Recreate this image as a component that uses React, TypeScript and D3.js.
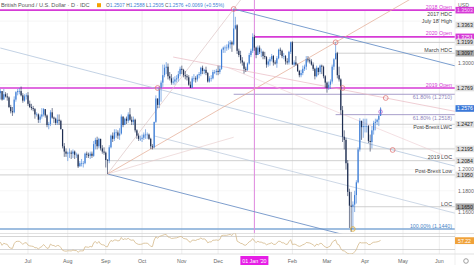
import React from "react";
import * as d3 from "d3";

type HLC = [number, number, number]; // high, low, close (open = previous close)

const PREV_CLOSE = 1.272;

const may2019: HLC[] = [
  [1.2745, 1.27, 1.272], [1.277, 1.269, 1.271], [1.272, 1.263, 1.265], [1.268, 1.2605, 1.2655], [1.273, 1.264, 1.271],
  [1.273, 1.267, 1.269], [1.271, 1.264, 1.266], [1.268, 1.26, 1.262], [1.265, 1.258, 1.26], [1.265, 1.256, 1.263],
];
const jun2019: HLC[] = [
  [1.267, 1.26, 1.266], [1.27, 1.264, 1.267], [1.273, 1.265, 1.271], [1.274, 1.268, 1.272], [1.276, 1.266, 1.274],
  [1.274, 1.265, 1.266], [1.276, 1.266, 1.271], [1.273, 1.268, 1.269], [1.272, 1.265, 1.268], [1.269, 1.258, 1.259],
  [1.261, 1.253, 1.255], [1.259, 1.2506, 1.254], [1.269, 1.253, 1.266], [1.274, 1.264, 1.273], [1.276, 1.27, 1.274],
  [1.277, 1.271, 1.274], [1.2783, 1.269, 1.27], [1.272, 1.263, 1.265], [1.271, 1.264, 1.269], [1.272, 1.266, 1.27],
];
const jul2019: HLC[] = [
  [1.273, 1.26, 1.262], [1.265, 1.258, 1.259], [1.262, 1.256, 1.258], [1.26, 1.255, 1.257], [1.258, 1.248, 1.252],
  [1.254, 1.25, 1.252], [1.253, 1.244, 1.247], [1.252, 1.244, 1.25], [1.258, 1.248, 1.252], [1.258, 1.25, 1.257],
  [1.257, 1.249, 1.251], [1.252, 1.24, 1.242], [1.245, 1.238, 1.243], [1.256, 1.241, 1.254], [1.258, 1.248, 1.249],
  [1.25, 1.244, 1.248], [1.249, 1.242, 1.244], [1.252, 1.242, 1.247], [1.252, 1.242, 1.246], [1.247, 1.238, 1.238],
  [1.238, 1.22, 1.222], [1.225, 1.212, 1.217], [1.22, 1.212, 1.215],
];
const aug2019: HLC[] = [
  [1.217, 1.208, 1.216], [1.22, 1.211, 1.216], [1.218, 1.21, 1.215], [1.219, 1.211, 1.217], [1.218, 1.21, 1.214],
  [1.216, 1.211, 1.214], [1.215, 1.2015, 1.203], [1.208, 1.203, 1.206], [1.21, 1.203, 1.206], [1.208, 1.202, 1.206],
  [1.216, 1.205, 1.215], [1.217, 1.211, 1.214], [1.216, 1.211, 1.213], [1.217, 1.21, 1.215], [1.217, 1.211, 1.213],
  [1.227, 1.212, 1.224], [1.23, 1.219, 1.228], [1.231, 1.219, 1.222], [1.23, 1.22, 1.229], [1.229, 1.218, 1.22],
  [1.223, 1.215, 1.217], [1.221, 1.214, 1.216],
];
const sep2019: HLC[] = [
  [1.217, 1.202, 1.209], [1.21, 1.1959, 1.2084], [1.223, 1.206, 1.221], [1.233, 1.22, 1.232], [1.235, 1.226, 1.229],
  [1.238, 1.227, 1.235], [1.238, 1.23, 1.235], [1.237, 1.229, 1.232], [1.239, 1.228, 1.234], [1.252, 1.233, 1.25],
  [1.25, 1.24, 1.242], [1.249, 1.242, 1.248], [1.25, 1.243, 1.246], [1.254, 1.244, 1.252], [1.258, 1.246, 1.247],
  [1.25, 1.242, 1.245], [1.25, 1.242, 1.247], [1.248, 1.235, 1.237], [1.238, 1.229, 1.232], [1.234, 1.227, 1.229],
  [1.232, 1.227, 1.229],
];
const oct2019: HLC[] = [
  [1.233, 1.226, 1.23], [1.235, 1.228, 1.233], [1.238, 1.229, 1.233], [1.235, 1.229, 1.233], [1.234, 1.228, 1.229],
  [1.23, 1.2195, 1.222], [1.224, 1.219, 1.221], [1.245, 1.22, 1.245], [1.27, 1.244, 1.267], [1.267, 1.258, 1.261],
  [1.279, 1.258, 1.277], [1.284, 1.264, 1.282], [1.299, 1.278, 1.289], [1.299, 1.287, 1.296], [1.3013, 1.29, 1.297],
  [1.3, 1.285, 1.288], [1.292, 1.284, 1.286], [1.29, 1.28, 1.282], [1.287, 1.28, 1.283], [1.288, 1.28, 1.285],
  [1.289, 1.282, 1.286], [1.293, 1.283, 1.29], [1.297, 1.288, 1.295],
];
const nov2019: HLC[] = [
  [1.298, 1.29, 1.294], [1.295, 1.287, 1.289], [1.293, 1.285, 1.288], [1.29, 1.284, 1.287], [1.289, 1.279, 1.28],
  [1.283, 1.277, 1.277], [1.288, 1.277, 1.286], [1.29, 1.283, 1.286], [1.288, 1.282, 1.285], [1.29, 1.283, 1.289],
  [1.292, 1.286, 1.29], [1.297, 1.288, 1.296], [1.298, 1.29, 1.293], [1.295, 1.29, 1.294], [1.297, 1.289, 1.291],
  [1.292, 1.282, 1.283], [1.288, 1.282, 1.286], [1.289, 1.283, 1.286], [1.294, 1.285, 1.292], [1.294, 1.29, 1.292],
  [1.295, 1.289, 1.293],
];
const dec2019: HLC[] = [
  [1.298, 1.289, 1.292], [1.298, 1.29, 1.295], [1.314, 1.294, 1.313], [1.316, 1.31, 1.315], [1.317, 1.31, 1.315],
  [1.318, 1.312, 1.315], [1.321, 1.313, 1.318], [1.322, 1.314, 1.32], [1.3215, 1.311, 1.318], [1.3514, 1.317, 1.333],
  [1.344, 1.332, 1.336], [1.337, 1.309, 1.312], [1.314, 1.306, 1.308], [1.312, 1.3, 1.303], [1.306, 1.298, 1.301],
  [1.302, 1.2905, 1.295], [1.297, 1.292, 1.294], [1.301, 1.293, 1.3], [1.31, 1.299, 1.308], [1.314, 1.306, 1.312],
  [1.3285, 1.31, 1.3251],
];
const jan2020: HLC[] = [
  [1.327, 1.312, 1.315], [1.316, 1.305, 1.308], [1.317, 1.308, 1.315], [1.317, 1.309, 1.311], [1.314, 1.306, 1.311],
  [1.312, 1.304, 1.307], [1.311, 1.304, 1.306], [1.307, 1.296, 1.299], [1.304, 1.297, 1.302], [1.306, 1.298, 1.304],
  [1.309, 1.302, 1.307], [1.308, 1.298, 1.301], [1.303, 1.299, 1.3], [1.307, 1.296, 1.305], [1.314, 1.304, 1.313],
  [1.315, 1.308, 1.312], [1.313, 1.305, 1.307], [1.31, 1.304, 1.307], [1.308, 1.299, 1.302], [1.305, 1.299, 1.301],
  [1.312, 1.299, 1.311], [1.3207, 1.309, 1.32],
];
const feb2020: HLC[] = [
  [1.321, 1.299, 1.299], [1.303, 1.297, 1.301], [1.307, 1.298, 1.299], [1.3, 1.292, 1.293], [1.294, 1.287, 1.289],
  [1.294, 1.287, 1.291], [1.298, 1.289, 1.295], [1.299, 1.293, 1.297], [1.307, 1.294, 1.304], [1.307, 1.301, 1.303],
  [1.305, 1.3, 1.302], [1.304, 1.298, 1.299], [1.301, 1.293, 1.295], [1.296, 1.285, 1.288], [1.298, 1.287, 1.296],
  [1.296, 1.289, 1.292], [1.299, 1.29, 1.298], [1.299, 1.29, 1.297], [1.298, 1.286, 1.288], [1.289, 1.277, 1.282],
];
const mar2020: HLC[] = [
  [1.283, 1.2725, 1.277], [1.283, 1.275, 1.28], [1.285, 1.276, 1.283], [1.299, 1.281, 1.297], [1.305, 1.294, 1.304],
  [1.32, 1.304, 1.3097], [1.311, 1.286, 1.289], [1.297, 1.283, 1.285], [1.286, 1.252, 1.256], [1.26, 1.226, 1.231],
  [1.237, 1.219, 1.228], [1.23, 1.2, 1.206], [1.209, 1.175, 1.179], [1.182, 1.145, 1.166], [1.179, 1.1412, 1.165],
  [1.17, 1.144, 1.167], [1.18, 1.16, 1.176], [1.19, 1.168, 1.188], [1.221, 1.187, 1.219], [1.2485, 1.217, 1.246],
  [1.246, 1.228, 1.24], [1.248, 1.23, 1.241],
];
const apr2020: HLC[] = [
  [1.248, 1.235, 1.241], [1.248, 1.235, 1.241], [1.242, 1.225, 1.227], [1.233, 1.217, 1.226], [1.241, 1.22, 1.237],
  [1.246, 1.233, 1.244], [1.248, 1.237, 1.245], [1.248, 1.242, 1.247], [1.252, 1.241, 1.2507], [1.2588, 1.2505, 1.2576],
];

const FIRST_DAY = "2019-05-20";
const HOLIDAYS = ["2019-12-25", "2020-01-01"];

// key levels
const levelNames = [
  "2018 Open", "2017 HDC", "July 18' High", "2020 Open", "March HDC", "2019 Open", "61.80% (1.2710)",
  "61.80% (1.2518)", "Post-Brexit LWC", "2019 LOC", "Post-Brexit Low", "LOC", "100.00% (1.1440)",
];
const levelPrices = [1.3503, 1.347, 1.3363, 1.3251, 1.3097, 1.2769, 1.271, 1.2518, 1.2427, 1.2084, 1.195, 1.165, 1.144];
const levelStarts = [
  FIRST_DAY, "", "", "2020-01-02", "2020-03-09", FIRST_DAY, "2019-12-13",
  "2020-03-09", FIRST_DAY, "2019-09-03", FIRST_DAY, "2020-03-20", FIRST_DAY,
];
const axisOnlyPrices = [1.3199, 1.2195];
const axisOnlyStarts = ["2020-01-31", "2019-10-08"];
const priceTicks = [1.16, 1.18, 1.2, 1.22, 1.24, 1.26, 1.28, 1.3, 1.32, 1.34];

// trend lines: [fromDate, fromPrice, toDate, toPrice]
const decHighFall = ["2019-12-13", 1.3514, "2020-03-09", 1.3267] as const;
const upperChannel = ["2019-06-07", 1.3146, "2020-04-23", 1.2185] as const;
const midChannel = ["2019-10-10", 1.2317, "2020-04-29", 1.1723] as const;
const lowerChannel = ["2019-09-03", 1.1959, "2020-03-10", 1.1402] as const;
const fanToDec = ["2019-09-03", 1.1959, "2019-12-13", 1.3514] as const;
const fanToMar = ["2019-09-03", 1.1959, "2020-03-09", 1.32] as const;
const fanShallow = ["2019-09-03", 1.1959, "2019-12-13", 1.2305] as const;
const pinkUpper = ["2019-10-25", 1.3061, "2020-04-17", 1.2675] as const;
const pinkLower = ["2019-12-09", 1.2967, "2020-03-19", 1.2496] as const;

const circleDates = ["2019-12-13", "2020-03-09", "2020-03-13", "2019-10-14", "2020-04-17", "2020-04-23"];
const circlePrices = [1.3514, 1.32, 1.2769, 1.2769, 1.2675, 1.2185];
const lowMarkDate = "2020-03-23";
const lowMarkPrice = 1.144;

const OSC_LAST = 57.22;
const OSC_LEVELS = [30, 70];

const FONT = "'Liberation Sans', Arial, sans-serif";
const W = 474, H = 265, PLOT_R = 455, PRICE_B = 233.5, OSC_B = 254;

const fmt = d3.utcFormat("%Y-%m-%d");
const days = d3.utcDay
  .range(new Date(Date.UTC(2019, 4, 20)), new Date(Date.UTC(2020, 6, 1)))
  .filter((d) => d.getUTCDay() !== 0 && d.getUTCDay() !== 6 && !HOLIDAYS.includes(fmt(d)));
const dayIndex = new Map(days.map((d, i) => [fmt(d), i] as [string, number]));
const idx = (s: string) => dayIndex.get(s) as number;

const bars = [may2019, jun2019, jul2019, aug2019, sep2019, oct2019, nov2019, dec2019, jan2020, feb2020, mar2020, apr2020].flat();
const closes = bars.map((b) => b[2]);
const opens = closes.map((c, i) => (i === 0 ? PREV_CLOSE : closes[i - 1]));

function rsi(values: number[], n = 14): (number | null)[] {
  const out: (number | null)[] = values.map(() => null);
  let ag = 0, al = 0;
  for (let i = 1; i < values.length; i++) {
    const d = values[i] - values[i - 1];
    const g = Math.max(d, 0), l = Math.max(-d, 0);
    if (i <= n) {
      ag += g / n; al += l / n;
      if (i === n) out[i] = 100 - 100 / (1 + ag / (al || 1e-9));
    } else {
      ag = (ag * (n - 1) + g) / n; al = (al * (n - 1) + l) / n;
      out[i] = 100 - 100 / (1 + ag / (al || 1e-9));
    }
  }
  return out;
}
const oscValues = rsi(closes);

const x = d3.scaleLinear().domain([idx("2019-07-01"), idx("2020-04-01")]).range([28, 365]);
const y = d3.scaleLinear().domain([1.144, 1.3363]).range([229, 25]);
const yo = d3.scaleLinear().domain([30, 70]).range([249.5, 236.5]);

const MAGENTA = "#d63bd6";
const UP = "#3f7fd6";
const DOWN = "#1e2e52";

function trendPath(t: readonly [string, number, string, number], ray: boolean) {
  const x1 = x(idx(t[0])), y1 = y(t[1]), x2 = x(idx(t[2])), y2 = y(t[3]);
  if (!ray) return { x1, y1, x2, y2 };
  const s = (y2 - y1) / (x2 - x1);
  return { x1, y1, x2: PLOT_R, y2: y1 + s * (PLOT_R - x1) };
}

const labelSide: Record<string, number> = {
  "2018 Open": -3.5, "2017 HDC": 0, "July 18' High": -3.5, "2020 Open": -3.5, "March HDC": -3.5, "2019 Open": -2.5,
  "61.80% (1.2710)": 2.5, "61.80% (1.2518)": 3, "Post-Brexit LWC": 3, "2019 LOC": -3.5, "Post-Brexit Low": -3.5,
  LOC: -2.5, "100.00% (1.1440)": -3,
};

export default function App() {
  const monthTicks = days
    .map((d, i) => ({ d, i }))
    .filter(({ d, i }) => i > 0 && d.getUTCMonth() !== days[i - 1].getUTCMonth())
    .filter(({ i }) => x(i) > 5 && x(i) < PLOT_R);

  const oscLine = d3
    .line<number | null>()
    .defined((v) => v !== null)
    .x((_, i) => x(i))
    .y((v) => yo(v as number));

  const trendStyles: [readonly [string, number, string, number], boolean, string, number][] = [
    [upperChannel, true, "#a9bfd8", 0.7],
    [midChannel, true, "#b7c7db", 0.7],
    [lowerChannel, true, "#6f93c7", 0.9],
    [fanToDec, true, "#dcc4c4", 0.7],
    [fanToMar, true, "#e3a88f", 0.7],
    [fanShallow, false, "#e6c7c7", 0.6],
    [pinkUpper, true, "#e8b9c2", 0.7],
    [pinkLower, true, "#eccbd0", 0.6],
    [decHighFall, true, "#6b93c9", 0.9],
  ];

  const levelStyle = (name: string) => {
    if (name.includes("Open")) return { stroke: MAGENTA, w: 1.6, text: MAGENTA };
    if (name.startsWith("61.80%")) return { stroke: "#9d93c4", w: 0.9, text: "#8e84bb" };
    if (name.startsWith("100.00%")) return { stroke: "#7fa9d6", w: 1.6, text: "#4a86c8" };
    return { stroke: "#c4c4c4", w: 0.8, text: "#444" };
  };

  const boxes: { p: number; bg: string; fg: string }[] = [
    { p: levelPrices[0], bg: MAGENTA, fg: "#fbd3fb" },
    { p: levelPrices[2], bg: "#dedede", fg: "#222" },
    { p: levelPrices[3], bg: MAGENTA, fg: "#fff" },
    { p: axisOnlyPrices[0], bg: "#dedede", fg: "#222" },
    { p: levelPrices[4], bg: "#a9a9a9", fg: "#222" },
    { p: levelPrices[5], bg: "#dedede", fg: "#222" },
    { p: levelPrices[8], bg: "#dedede", fg: "#222" },
    { p: axisOnlyPrices[1], bg: "#dedede", fg: "#222" },
    { p: levelPrices[9], bg: "#dedede", fg: "#222" },
    { p: levelPrices[10], bg: "#dedede", fg: "#222" },
    { p: levelPrices[11], bg: "#a9a9a9", fg: "#222" },
    { p: closes[closes.length - 1], bg: "#3b78d8", fg: "#fff" },
  ];
  const visibleTicks = priceTicks.filter((t) => boxes.every((b) => Math.abs(y(b.p) - y(t)) > 5));

  const lastClose = closes[closes.length - 1];

  return (
    <svg width={W} height={H} style={{ position: "fixed", left: 0, top: 0, background: "#fff" }} fontFamily={FONT}>
      <defs>
        <clipPath id="pricePane"><rect x={0} y={0} width={PLOT_R} height={PRICE_B} /></clipPath>
        <clipPath id="oscPane"><rect x={0} y={PRICE_B} width={PLOT_R} height={OSC_B - PRICE_B} /></clipPath>
      </defs>
      <rect x={0} y={0} width={W} height={H} fill="#fff" />

      {/* grid */}
      {visibleTicks.concat([]).map(() => null)}
      {priceTicks.map((t) => (
        <line key={"hg" + t} x1={0} x2={PLOT_R} y1={y(t)} y2={y(t)} stroke="#f0f0f0" strokeWidth={0.6} />
      ))}
      {monthTicks.map(({ i }) => (
        <line key={"vg" + i} x1={x(i)} x2={x(i)} y1={11} y2={OSC_B} stroke="#e2e2e2" strokeWidth={0.6} />
      ))}

      <g clipPath="url(#pricePane)">
        {/* horizontal levels */}
        {levelNames.map((name, k) => {
          if (!levelStarts[k]) return null;
          const s = levelStyle(name);
          return (
            <line key={"lv" + k} x1={Math.max(0, x(idx(levelStarts[k])))} x2={PLOT_R} y1={y(levelPrices[k])} y2={y(levelPrices[k])}
              stroke={s.stroke} strokeWidth={s.w} />
          );
        })}
        {axisOnlyPrices.map((p, k) => (
          <line key={"ax" + k} x1={x(idx(axisOnlyStarts[k]))} x2={PLOT_R} y1={y(p)} y2={y(p)} stroke="#c4c4c4" strokeWidth={0.8} />
        ))}
        {/* Jan 2020 marker */}
        <line x1={x(idx("2020-01-02"))} x2={x(idx("2020-01-02"))} y1={0} y2={PRICE_B} stroke="#e08ae0" strokeWidth={1} />

        {/* trend lines */}
        {trendStyles.map(([t, ray, c, w], k) => {
          const p = trendPath(t, ray);
          return <line key={"tl" + k} {...p} stroke={c} strokeWidth={w} />;
        })}

        {/* candles */}
        {bars.map((b, i) => {
          const o = opens[i], [h, l, c] = b;
          const cx = x(i);
          if (cx < -3) return null;
          const col = c >= o ? UP : DOWN;
          const top = y(Math.max(o, c)), bot = y(Math.min(o, c));
          return (
            <g key={"c" + i}>
              <line x1={cx} x2={cx} y1={y(h)} y2={y(l)} stroke={col} strokeWidth={0.6} />
              <rect x={cx - 0.6} y={top} width={1.2} height={Math.max(0.6, bot - top)} fill={col} />
            </g>
          );
        })}

        {/* circles */}
        {circleDates.map((d, k) => (
          <circle key={"ci" + k} cx={x(idx(d))} cy={y(circlePrices[k])} r={2.4} fill="none" stroke="#e0787a" strokeWidth={0.8} />
        ))}
        <circle cx={x(idx(lowMarkDate))} cy={y(lowMarkPrice)} r={2.3} fill="none" stroke="#e0b040" strokeWidth={0.9} />
        <circle cx={x(bars.length - 1)} cy={y(1.2545)} r={1.8} fill="none" stroke="#b86ad0" strokeWidth={0.8} />
      </g>

      {/* level labels */}
      {levelNames.map((name, k) => {
        const s = levelStyle(name);
        const cy = y(levelPrices[k]) + labelSide[name];
        return (
          <text key={"lt" + k} x={452} y={cy + 1.9} textAnchor="end" fontSize={5.3} fill={s.text}>{name}</text>
        );
      })}

      {/* pane separators */}
      <line x1={0} x2={W} y1={PRICE_B} y2={PRICE_B} stroke="#d4d4d4" strokeWidth={0.7} />
      <line x1={0} x2={W} y1={OSC_B} y2={OSC_B} stroke="#d4d4d4" strokeWidth={0.7} />
      <line x1={PLOT_R} x2={PLOT_R} y1={0} y2={H} stroke="#e4e4e4" strokeWidth={0.6} />

      {/* oscillator */}
      <g clipPath="url(#oscPane)">
        {OSC_LEVELS.map((v) => (
          <line key={"ol" + v} x1={0} x2={PLOT_R} y1={yo(v)} y2={yo(v)} stroke="#b9b9b9" strokeWidth={0.6} />
        ))}
        <path d={oscLine(oscValues) || ""} fill="none" stroke="#d4b98a" strokeWidth={0.8} />
      </g>
      <rect x={455} y={yo(OSC_LAST) - 3.4} width={19} height={6.8} fill="#f0a23a" />
      <text x={464.5} y={yo(OSC_LAST) + 1.9} textAnchor="middle" fontSize={5.2} fill="#fff">{OSC_LAST.toFixed(2)}</text>

      {/* price axis */}
      <text x={458} y={7} fontSize={5.2} fill="#666">USD</text>
      {visibleTicks.map((t) => (
        <text key={"pt" + t} x={458} y={y(t) + 1.9} fontSize={5.2} fill="#666">{t.toFixed(4)}</text>
      ))}
      {boxes.map((b, k) => (
        <g key={"bx" + k}>
          <rect x={455.5} y={y(b.p) - 3.3} width={18.5} height={6.6} fill={b.bg} />
          <text x={457} y={y(b.p) + 1.9} fontSize={5.2} fill={b.fg}>{b.p.toFixed(4)}</text>
        </g>
      ))}

      {/* time axis */}
      {monthTicks.map(({ d, i }) => {
        const isJan = d.getUTCMonth() === 0;
        if (isJan) {
          return (
            <g key={"mt" + i}>
              <rect x={x(i) - 14} y={256} width={28} height={9} fill="#e61ee6" />
              <text x={x(i)} y={262.6} textAnchor="middle" fontSize={5.3} fill="#fff">
                {"01 Jan '" + d3.utcFormat("%y")(d)}
              </text>
            </g>
          );
        }
        return (
          <text key={"mt" + i} x={x(i)} y={262.6} textAnchor="middle" fontSize={5.3} fill="#666">
            {d3.utcFormat("%b")(d)}
          </text>
        );
      })}
      <circle cx={466} cy={261} r={2.3} fill="none" stroke="#888" strokeWidth={0.8} />

      {/* title */}
      <text x={1} y={7} fontSize={5.6} fill="#555">British Pound / U.S. Dollar · D · IDC</text>
      <rect x={97} y={3.2} width={4} height={4} fill="#f5a000" />
      <text x={106} y={7} fontSize={4.9} fill="#555">
        O<tspan fill={UP}>{opens[opens.length - 1].toFixed(4)}</tspan>{" "}
        H<tspan fill={UP}>{bars[bars.length - 1][0].toFixed(4)}</tspan>{" "}
        L<tspan fill={UP}>{bars[bars.length - 1][1].toFixed(4)}</tspan>{" "}
        C<tspan fill={UP}>{lastClose.toFixed(4)}</tspan>{" "}
        <tspan fill={UP}>{"+" + (lastClose - opens[opens.length - 1]).toFixed(4) + " (+" + (((lastClose - opens[opens.length - 1]) / opens[opens.length - 1]) * 100).toFixed(2) + "%)"}</tspan>
      </text>
    </svg>
  );
}
